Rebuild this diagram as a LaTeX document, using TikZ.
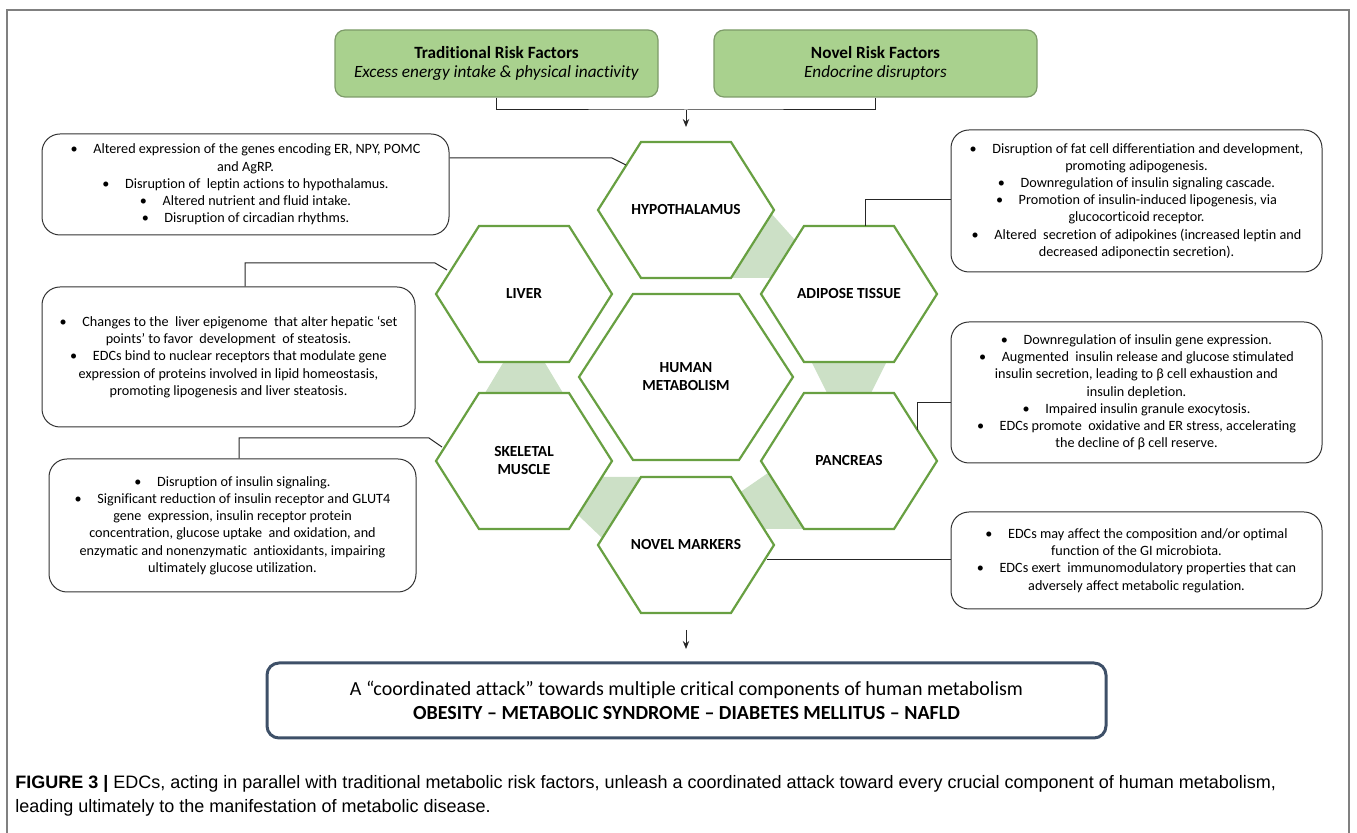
\documentclass[tikz,border=0pt]{standalone}
\usepackage{fontspec}
\setmainfont{Carlito}[Ligatures=NoCommon]
\newfontfamily\capfont{Liberation Sans}
\usetikzlibrary{arrows.meta}

\definecolor{framegray}{RGB}{128,128,128}
\definecolor{riskfill}{RGB}{169,209,142}
\definecolor{riskedge}{RGB}{125,155,105}
\definecolor{hexgreen}{RGB}{104,160,66}
\definecolor{bandgreen}{RGB}{204,224,198}
\definecolor{slate}{RGB}{62,80,104}

\tikzset{
  riskbox/.style={draw=riskedge, fill=riskfill, rounded corners=5pt, line width=0.6pt,
    minimum width=161.5pt, minimum height=33.5pt, align=center,
    font=\fontsize{8.6}{9.6}\selectfont},
  notebox/.style={draw=black!80, fill=white, rounded corners=9pt, line width=0.5pt,
    align=center, inner sep=0pt, font=\fontsize{7.1}{8.6}\selectfont},
  hexline/.style={draw=hexgreen, fill=white, line width=1.1pt},
  hexlabel/.style={align=center, font=\bfseries\fontsize{7.7}{9}\selectfont},
  conn/.style={draw=black!85, line width=0.5pt},
  band/.style={fill=bandgreen},
}

% one honeycomb cell: name, x, y, half width, half top edge, half height, label
\newcommand{\hexcell}[7]{%
  \draw[hexline] (#2-#4,#3) -- (#2-#5,#3-#6) -- (#2+#5,#3-#6) -- (#2+#4,#3)
    -- (#2+#5,#3+#6) -- (#2-#5,#3+#6) -- cycle;
  \node[hexlabel] (#1) at (#2,#3) {#7};}
\newcommand{\bul}{\textbullet\hspace{1.1em}}

\begin{document}
\begin{tikzpicture}[x=0.5pt, y=-0.5pt]
  \useasboundingbox (0,0) rectangle (1357,833);
  \draw[framegray, line width=0.6pt] (7,833) -- (7,10) -- (1349,10) -- (1349,833);

  % risk factors
  \node[riskbox] (trad) at (496.5,63.5) {\textbf{Traditional Risk Factors}\\ \textit{Excess energy intake \& physical inactivity}};
  \node[riskbox] (novel) at (875.5,63.5) {\textbf{Novel Risk Factors}\\ \textit{Endocrine disruptors}};
  \coordinate (join) at (686,110);
  \coordinate (topin) at (686,127);
  \draw[conn] (trad.south) |- (join) -| (novel.south);
  \draw[conn, -{Stealth[length=4pt, width=3.2pt]}] (join) -- (topin);

  % bands between the cells
  \fill[band] (770,212) -- (795,240) -- (772,278) -- (725,278) -- cycle;
  \fill[band] (503,363) -- (545,363) -- (563,393) -- (485,393) -- cycle;
  \fill[band] (812,363) -- (886,363) -- (871,393) -- (827,393) -- cycle;
  \fill[band] (600,477) -- (645,477) -- (602,538) -- (578,515) -- cycle;
  \fill[band] (768,473) -- (739,493) -- (762,529) -- (808,529) -- cycle;

  % honeycomb
  \hexcell{hyp}{686}{210}{88}{45}{68}{HYPOTHALAMUS}
  \hexcell{liv}{524}{294}{88}{45}{68}{LIVER}
  \hexcell{adi}{849}{294}{88}{45}{68}{ADIPOSE TISSUE}
  \hexcell{hum}{686}{377}{107}{53}{83}{HUMAN\\METABOLISM}
  \hexcell{ske}{524}{461}{88}{45}{68}{SKELETAL\\MUSCLE}
  \hexcell{pan}{849}{461}{88}{45}{68}{PANCREAS}
  \hexcell{mrk}{686}{545}{88}{45}{68}{NOVEL MARKERS}

  % notes
  \node[notebox, minimum width=203.5pt, minimum height=50.5pt] (hypnote) at (245.5,184.5)
    {\bul Altered expression of the genes encoding ER, NPY, POMC\\ and AgRP.\\
     \bul Disruption of \ leptin actions to hypothalamus.\\
     \bul Altered nutrient and fluid intake.\\
     \bul Disruption of circadian rhythms.};
  \node[notebox, minimum width=186.5pt, minimum height=70pt] (livnote) at (228.5,357)
    {\bul Changes to the \ liver epigenome \ that alter hepatic ‘set\\
     points’ to favor \ development \ of steatosis.\\
     \bul EDCs bind to nuclear receptors that modulate gene\\
     expression of proteins involved in lipid homeostasis,\\
     promoting lipogenesis and liver steatosis.};
  \node[notebox, minimum width=183.5pt, minimum height=66.5pt] (skenote) at (232.5,525.5)
    {\bul Disruption of insulin signaling.\\
     \bul Significant reduction of insulin receptor and GLUT4\\
     gene \ expression, insulin receptor protein\\
     concentration, glucose uptake \ and oxidation, and\\
     enzymatic and nonenzymatic \ antioxidants, impairing\\
     ultimately glucose utilization.};
  \node[notebox, minimum width=185.5pt, minimum height=71pt] (adinote) at (1136.5,201)
    {\bul Disruption of fat cell differentiation and development,\\
     promoting adipogenesis.\\
     \bul Downregulation of insulin signaling cascade.\\
     \bul Promotion of insulin-induced lipogenesis, via\\
     glucocorticoid receptor.\\
     \bul Altered \ secretion of adipokines (increased leptin and\\
     decreased adiponectin secretion).};
  \node[notebox, minimum width=185.5pt, minimum height=70.5pt] (pannote) at (1136.5,392.5)
    {\bul Downregulation of insulin gene expression.\\
     \bul Augmented \ insulin release and glucose stimulated\\
     insulin secretion, leading to β cell exhaustion and\\
     insulin depletion.\\
     \bul Impaired insulin granule exocytosis.\\
     \bul EDCs promote \ oxidative and ER stress, accelerating\\
     the decline of β cell reserve.};
  \node[notebox, minimum width=185.5pt, minimum height=48.5pt] (mrknote) at (1136.5,560.5)
    {\bul EDCs may affect the composition and/or optimal\\
     function of the GI microbiota.\\
     \bul EDCs exert \ immunomodulatory properties that can\\
     adversely affect metabolic regulation.};

  % links from notes to cells
  \coordinate (hypknee) at (612,158);
  \coordinate (hypend) at (626,165);
  \draw[conn] (hypnote.east |- hypknee) -- (hypknee) -- (hypend);
  \coordinate (livup) at (245,263);
  \coordinate (livknee) at (435,263);
  \coordinate (livend) at (447,270);
  \draw[conn] (livup |- livnote.north) -- (livup) -- (livknee) -- (livend);
  \coordinate (skeup) at (239,438);
  \coordinate (skeknee) at (429,438);
  \coordinate (skeend) at (442,447);
  \draw[conn] (skeup |- skenote.north) -- (skeup) -- (skeknee) -- (skeend);
  \coordinate (adiknee) at (865,200);
  \coordinate (adiend) at (865,226);
  \draw[conn] (adinote.west |- adiknee) -- (adiknee) -- (adiend);
  \coordinate (panknee) at (917,403);
  \coordinate (panend) at (917,430);
  \draw[conn] (pannote.west |- panknee) -- (panknee) -- (panend);
  \coordinate (mrkend) at (767,560);
  \draw[conn] (mrkend) -- (mrkend -| mrknote.west);

  % outcome
  \coordinate (downfrom) at (686,630);
  \coordinate (downto) at (686,649);
  \draw[conn, -{Stealth[length=4pt, width=3.2pt]}] (downfrom) -- (downto);
  \node[draw=slate, line width=1.5pt, rounded corners=6pt, fill=white, align=center,
        minimum width=419.5pt, minimum height=37.5pt, font=\fontsize{10}{12}\selectfont]
    (outcome) at (686.5,700.5)
    {A “coordinated attack” towards multiple critical components of human metabolism\\
     \textbf{OBESITY -- METABOLIC SYNDROME -- DIABETES MELLITUS -- NAFLD}};

  % caption
  \node[anchor=west, align=left, inner sep=0pt, font=\capfont\fontsize{9}{12}\selectfont] (caption) at (15,796)
    {\textbf{FIGURE 3 |} EDCs, acting in parallel with traditional metabolic risk factors, unleash a coordinated attack toward every crucial component of human metabolism,\\
     leading ultimately to the manifestation of metabolic disease.};
\end{tikzpicture}
\end{document}
